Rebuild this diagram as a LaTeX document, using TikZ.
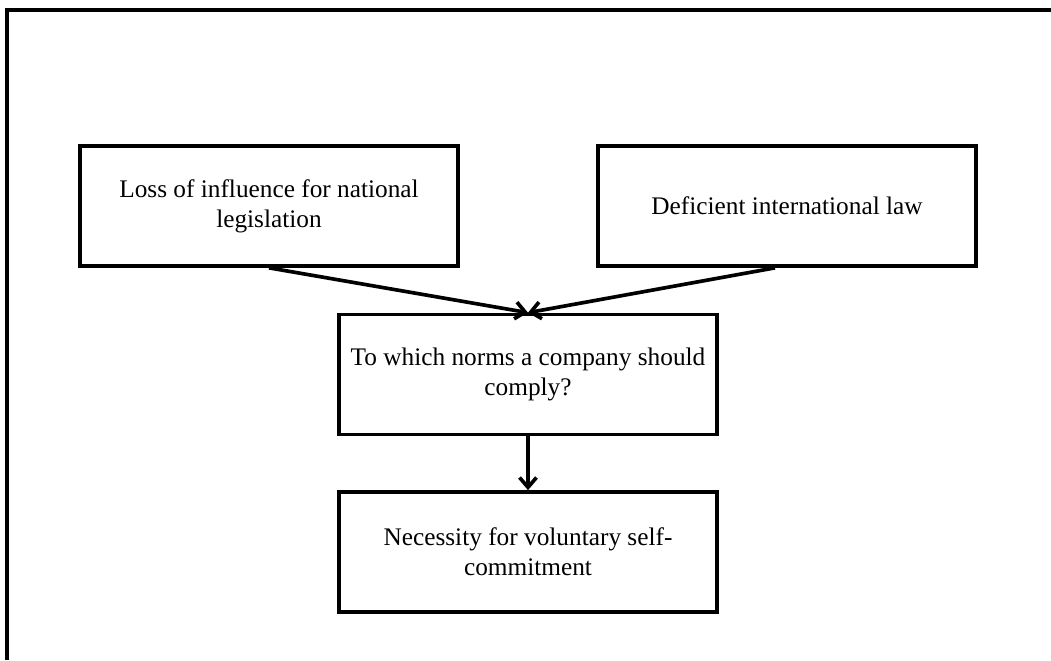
\documentclass[tikz,border=0pt]{standalone}
\usepackage{fontspec}
\setmainfont{Liberation Serif}
\usepackage{xcolor}
\usetikzlibrary{arrows.meta}

\begin{document}
\begin{tikzpicture}[x=0.025cm,y=-0.025cm,
    box/.style={draw,line width=2.6pt,minimum width=9.45cm,minimum height=3cm,
        align=center,font=\fontsize{18}{21.5}\selectfont},
    link/.style={line width=2.6pt,-{Straight Barb[length=7pt,width=12pt]}}]
    \useasboundingbox (0,0) rectangle (1051,660);
    \draw[line width=2.6pt] (7,660) -- (7,10) -- (1051,10);
    \node[box] (loss) at (269,206) {Loss of influence for national\\legislation};
    \node[box] (law) at (787,206) {Deficient international law};
    \node[box] (norms) at (528,374.5) {To which norms a company should\\comply?};
    \node[box] (self) at (528,552) {Necessity for voluntary self-\\commitment};
    \draw[link] (loss.south) to (norms.north);
    \draw[link] ([xshift=-0.3cm]law.south) to (norms.north);
    \draw[link] (norms) to (self);
\end{tikzpicture}
\end{document}
